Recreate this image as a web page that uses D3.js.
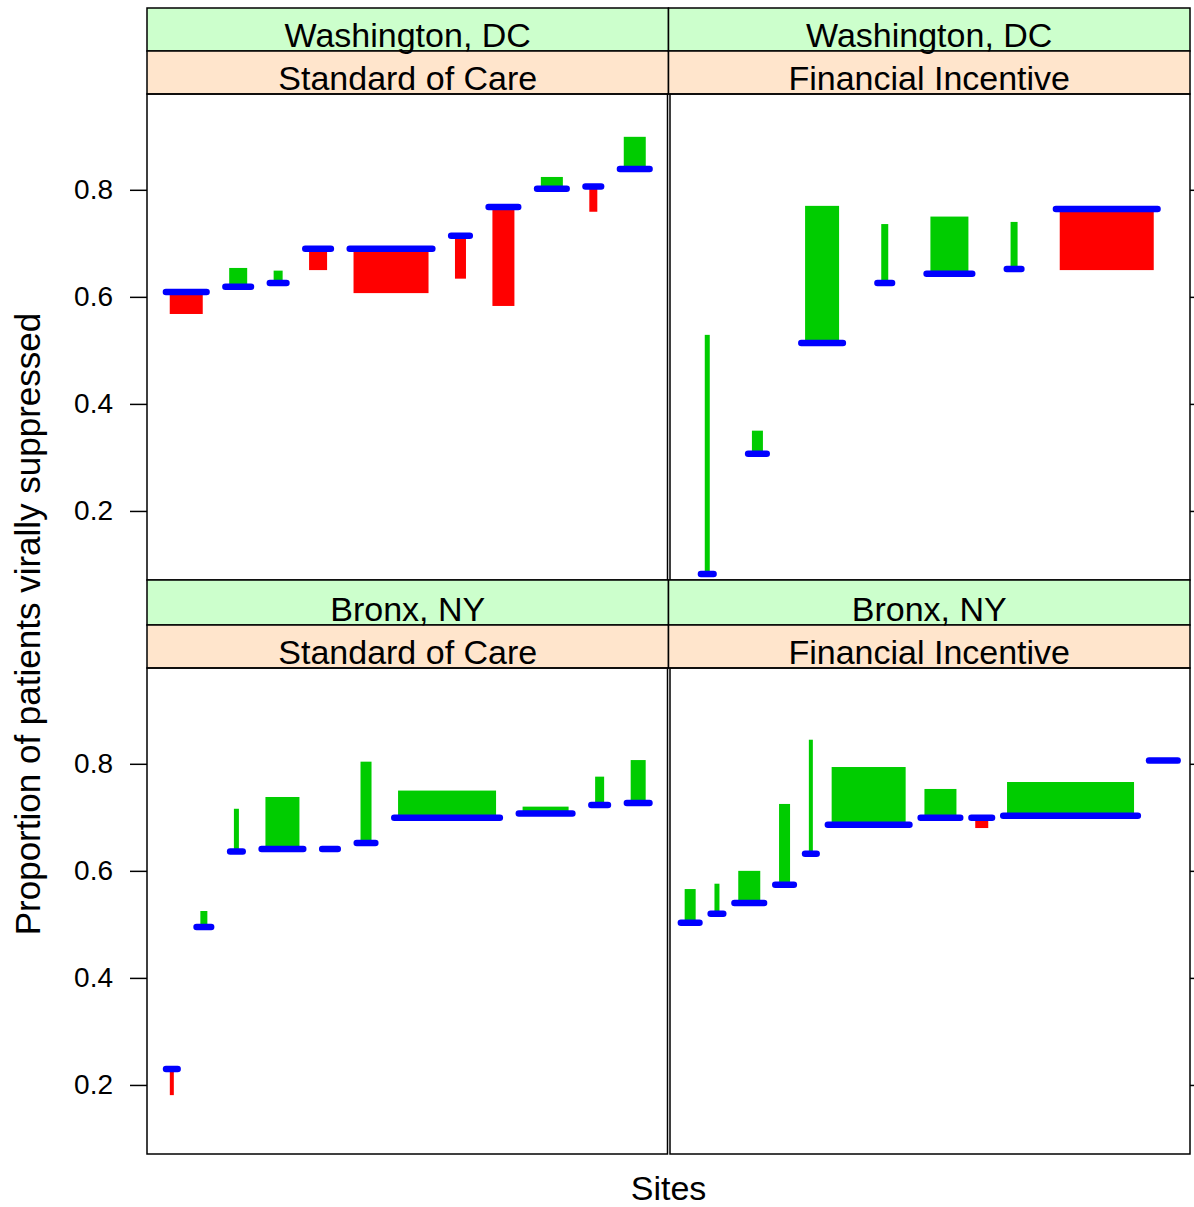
<!DOCTYPE html>
<html>
<head>
<meta charset="utf-8">
<script src="https://cdn.jsdelivr.net/npm/d3@7"></script>
<style>
    body { margin: 0; background: #fff; }
    svg { display: block; font-family: "Liberation Sans", Arial, sans-serif; }
</style>
</head>
<body>
<svg id="chart" width="1194" height="1207"></svg>
<script>
// panel labels
var cities = ["Washington, DC", "Bronx, NY"];
var arms = ["Standard of Care", "Financial Incentive"];

// site sizes (relative bar widths) and proportions before / after
var dcSocSize = [33, 18, 9, 18, 75, 11, 22, 22, 8, 22];
var dcSocBefore = [0.609, 0.619, 0.626, 0.690, 0.690, 0.714, 0.768, 0.802, 0.806, 0.839];
var dcSocAfter = [0.568, 0.654, 0.649, 0.650, 0.607, 0.634, 0.583, 0.824, 0.759, 0.899];

var dcFiSize = [5, 11, 34, 7, 38, 7, 94];
var dcFiBefore = [0.082, 0.307, 0.514, 0.626, 0.643, 0.652, 0.764];
var dcFiAfter = [0.529, 0.350, 0.770, 0.736, 0.750, 0.740, 0.650];

var bxSocSize = [4, 7, 5, 34, 8, 11, 98, 46, 9, 15];
var bxSocBefore = [0.230, 0.495, 0.636, 0.641, 0.641, 0.652, 0.699, 0.707, 0.723, 0.727];
var bxSocAfter = [0.181, 0.525, 0.716, 0.738, 0.641, 0.804, 0.750, 0.720, 0.776, 0.807];

var bxFiSize = [11, 5, 22, 11, 4, 74, 32, 13, 127, 21];
var bxFiBefore = [0.503, 0.520, 0.540, 0.574, 0.632, 0.686, 0.699, 0.699, 0.703, 0.806];
var bxFiAfter = [0.566, 0.576, 0.600, 0.725, 0.845, 0.794, 0.753, 0.680, 0.766, 0.806];

var yTicks = [0.2, 0.4, 0.6, 0.8];

var panels = [
    { row: 0, col: 0, size: dcSocSize, before: dcSocBefore, after: dcSocAfter },
    { row: 0, col: 1, size: dcFiSize, before: dcFiBefore, after: dcFiAfter },
    { row: 1, col: 0, size: bxSocSize, before: bxSocBefore, after: bxSocAfter },
    { row: 1, col: 1, size: bxFiSize, before: bxFiBefore, after: bxFiAfter }
];

var svg = d3.select("#chart");

// layout (note: "top" is taken by window.top, so use other names)
var frameLeft = 147, frameRight = 1190, frameTop = 8;
var stripH = 43;
var plotH = 486;
var rowH = 574;
var colW = (frameRight - frameLeft) / 2;
var padRatio = 0.86;

var upColor = "#00cc00", downColor = "#ff0000", baseColor = "#0000ff";

var y = d3.scaleLinear().domain([0.071, 0.979]).range([plotH, 0]);
// widths of sites are on a common scale, gaps fill the rest of the panel
var w = d3.scaleLinear().domain([0, 1]).range([0, 1]);

panels.forEach(function (p) {
    var x0 = frameLeft + p.col * colW;
    var y0 = frameTop + p.row * rowH;
    var g = svg.append("g").attr("transform", "translate(" + x0 + "," + y0 + ")");

    // strips (lower row's first strip reaches up to the panel above)
    var extra = rowH - 2 * stripH - plotH;
    var extraTop = p.row > 0 ? extra : 0;
    g.append("rect")
        .attr("x", 0).attr("y", -extraTop)
        .attr("width", colW).attr("height", stripH + extraTop)
        .attr("fill", "#ccffcc").attr("stroke", "#000").attr("stroke-width", 1.5);
    g.append("rect")
        .attr("x", 0).attr("y", stripH)
        .attr("width", colW).attr("height", stripH)
        .attr("fill", "#ffe5cc").attr("stroke", "#000").attr("stroke-width", 1.5);
    g.append("text")
        .attr("x", colW / 2).attr("y", stripH - 4)
        .attr("text-anchor", "middle").attr("font-size", 34)
        .text(cities[p.row]);
    g.append("text")
        .attr("x", colW / 2).attr("y", 2 * stripH - 4)
        .attr("text-anchor", "middle").attr("font-size", 34)
        .text(arms[p.col]);

    var plot = g.append("g").attr("transform", "translate(0," + (2 * stripH) + ")");

    // x positions of the sites
    var widths = p.size.map(function (d) { return w(d); });
    var total = d3.sum(widths);
    var n = widths.length;
    var gap = (colW - total) / (n - 1 + 2 * padRatio);
    var xs = [];
    var cur = gap * padRatio;
    widths.forEach(function (d) {
        xs.push(cur);
        cur += d + gap;
    });

    var sites = d3.range(n).map(function (i) {
        return { x: xs[i], w: widths[i], before: p.before[i], after: p.after[i] };
    });

    plot.selectAll(".bar")
        .data(sites.filter(function (d) { return d.after !== d.before; }))
        .enter()
        .append("rect")
        .attr("class", "bar")
        .attr("x", function (d) { return d.x; })
        .attr("width", function (d) { return d.w; })
        .attr("y", function (d) { return y(Math.max(d.before, d.after)); })
        .attr("height", function (d) { return Math.abs(y(d.before) - y(d.after)); })
        .attr("fill", function (d) { return d.after > d.before ? upColor : downColor; });

    plot.selectAll(".base")
        .data(sites)
        .enter()
        .append("line")
        .attr("class", "base")
        .attr("x1", function (d) { return d.x - 3.8; })
        .attr("x2", function (d) { return d.x + d.w + 3.8; })
        .attr("y1", function (d) { return y(d.before); })
        .attr("y2", function (d) { return y(d.before); })
        .attr("stroke", baseColor)
        .attr("stroke-width", 6.5)
        .attr("stroke-linecap", "round");

    // panel border
    var inset = p.col === 0 ? 0 : 1.5;
    plot.append("rect")
        .attr("x", inset).attr("y", 0)
        .attr("width", colW - (p.col === 0 ? 1 : 1.5)).attr("height", plotH)
        .attr("fill", "none").attr("stroke", "#000").attr("stroke-width", 1.5);

    // axes: labels on the left column, plain ticks on the right
    if (p.col === 0) {
        var ax = plot.append("g")
            .call(d3.axisLeft(y).tickValues(yTicks).tickSize(17).tickPadding(17)
                .tickFormat(d3.format(".1f")));
        ax.select(".domain").remove();
        ax.selectAll("line").attr("stroke", "#000").attr("stroke-width", 1.5);
        ax.selectAll("text").attr("font-size", 28).attr("fill", "#000")
            .style("font-family", "'Liberation Sans', Arial, sans-serif");
    } else {
        var ax2 = plot.append("g")
            .attr("transform", "translate(" + colW + ",0)")
            .call(d3.axisRight(y).tickValues(yTicks).tickSize(17).tickFormat(""));
        ax2.select(".domain").remove();
        ax2.selectAll("line").attr("stroke", "#000").attr("stroke-width", 1.5);
    }
});

// axis titles
var panelsMid = (frameTop + 2 * stripH + frameTop + rowH + 2 * stripH + plotH) / 2;
svg.append("text")
    .attr("transform", "translate(40," + panelsMid + ") rotate(-90)")
    .attr("text-anchor", "middle")
    .attr("font-size", 35)
    .text("Proportion of patients virally suppressed");

svg.append("text")
    .attr("x", (frameLeft + frameRight) / 2)
    .attr("y", 1200)
    .attr("text-anchor", "middle")
    .attr("font-size", 34)
    .text("Sites");
</script>
</body>
</html>
